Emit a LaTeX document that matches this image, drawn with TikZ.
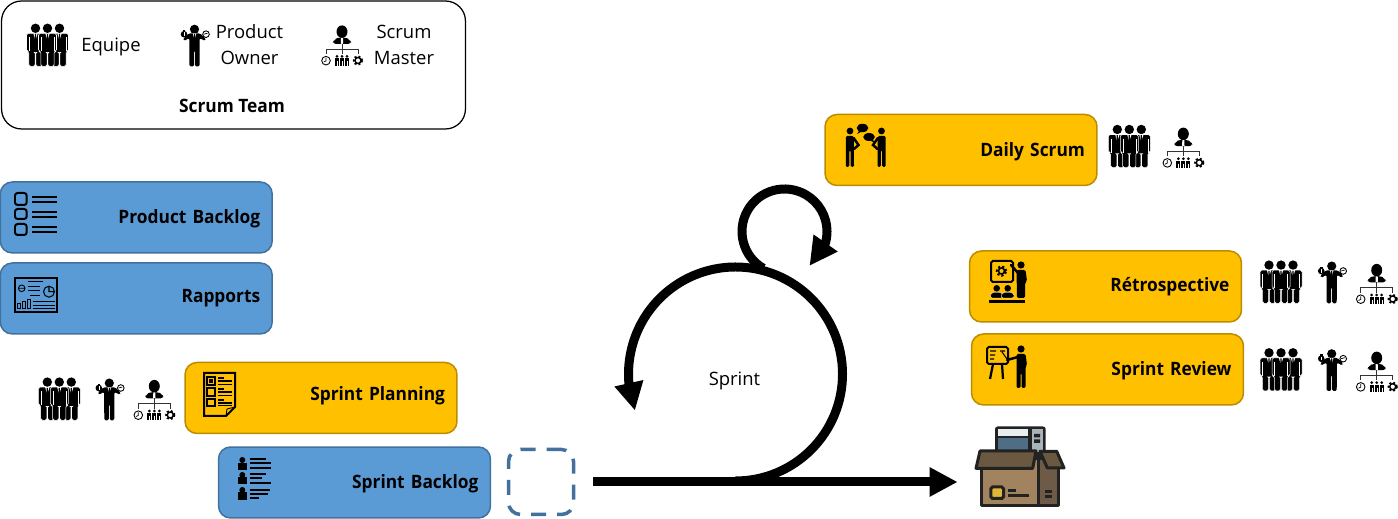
\documentclass[tikz,border=0pt]{standalone}
\usepackage{xcolor}
\usepackage{fontspec}
\setmainfont[BoldFeatures={FakeStretch=0.94}]{Open Sans}
\usepackage{tikz}
\usetikzlibrary{arrows.meta,bending}

\definecolor{boxblue}{HTML}{5B9BD5}
\definecolor{lineblue}{HTML}{41719C}
\definecolor{boxyellow}{HTML}{FFC000}
\definecolor{lineyellow}{HTML}{BC8C00}
\definecolor{cratedark}{HTML}{222222}
\definecolor{cratefront}{HTML}{A2835F}
\definecolor{crateside}{HTML}{6E5B47}
\definecolor{cratelid}{HTML}{6A5840}
\definecolor{cratelabel}{HTML}{E0B63A}
\definecolor{ovenbar}{HTML}{E8EEF0}
\definecolor{ovenglass}{HTML}{4F6D85}
\definecolor{ovenpanel}{HTML}{A9B4BA}

\newcommand{\nudge}[2]{\raisebox{#1}[\height][\depth]{#2}}

\tikzset{
  labeltext/.style = {font=\fontsize{10.5}{14.8}\selectfont, align=center, inner sep=0pt},
  boldtext/.style = {labeltext, font=\fontsize{10.5}{14.8}\selectfont\bfseries},
  stepbox/.style = {rectangle,
      rounded corners = 0.24cm,
      line width = 0.03cm,
      minimum height = 1.42cm,
      text width = 4.96cm,
      inner xsep = 0.24cm,
      align = right,
      font = \fontsize{10.5}{14.8}\selectfont\bfseries},
  bluebox/.style = {stepbox, draw = lineblue, fill = boxblue},
  yellowbox/.style = {stepbox, draw = lineyellow, fill = boxyellow},
  thickline/.style = {line width = 0.18cm},
  thickarrow/.style = {thickline, -{Triangle[length=0.56cm,width=0.55cm,flex]}},
  iconline/.style = {line width = 0.033cm},
  suit/.pic = {
    \fill (0,17.2) circle (4.7);
    \path[fill=black, draw=white, line width=0.3pt, rounded corners=1pt]
      (-9,12.2) -- (9,12.2) -- (9,-6) -- (6.6,-6) -- (6.6,-21) -- (0.4,-21) -- (0.4,-7)
      -- (-0.4,-7) -- (-0.4,-21) -- (-6.6,-21) -- (-6.6,-6) -- (-9,-6) -- cycle;
    \fill[white] (-2.2,12.2) -- (2.2,12.2) -- (0,5) -- cycle;
    \fill (-0.6,11.5) -- (0.6,11.5) -- (0.9,4) -- (0,2) -- (-0.9,4) -- cycle;
    \draw[white, line width=0.2pt] (-6.6,8) -- (-6.6,-6) (6.6,8) -- (6.6,-6);
  },
  team/.pic = {
    \pic at (-12,0) {suit};
    \pic at (12,0) {suit};
    \pic at (0,0) {suit};
  },
  owner/.pic = {
    \fill (0,16.2) circle (4.6);
    \fill[rounded corners=0.8pt] (-5.8,12) -- (5.8,12) -- (11.5,6.5) -- (10.5,4.5) -- (5.2,7.5)
      -- (5,-21) -- (0.5,-21) -- (0.5,-5) -- (-0.5,-5) -- (-0.5,-21) -- (-5,-21)
      -- (-5.2,7.5) -- (-10.5,4.5) -- (-11.5,6.5) -- cycle;
    \fill[white] (-1.8,12) -- (1.8,12) -- (0,6) -- cycle;
    \fill (-0.5,11.5) -- (0.5,11.5) -- (0.8,3) -- (-0.8,3) -- cycle;
    \fill (-10.5,11.3) circle (3.3);
    \fill (-11.8,15.6) rectangle (-9.2,14);
    \draw[white, line width=0.3pt] (-10.5,9.5) -- (-10.5,13);
    \draw[fill=white, line width=0.5pt] (11.5,11.3) circle (3.3);
    \draw[line width=0.4pt] (9.5,11.3) -- (13,12.3);
  },
  master/.pic = {
    \fill (0,13.8) ellipse (5.5 and 6.3);
    \fill[rounded corners=2pt] (-9.6,1.5) -- (-8,6) -- (-3,8) -- (3,8) -- (8,6) -- (9.6,1.5) -- cycle;
    \fill[white] (-1,7.5) -- (1,7.5) -- (1.2,2) -- (0,1.5) -- (-1.2,2) -- cycle;
    \draw[line width=0.5pt, draw=black!80] (-16,-8.8) -- (-16,-3.5) -- (16,-3.5) -- (16,-8.8) (0,1.5) -- (0,-8.8);
    % clock
    \draw[line width=0.5pt] (-16,-15.2) circle (4.3);
    \draw[line width=0.4pt] (-16,-12.5) -- (-16,-15.5) -- (-18.3,-16.5);
    % little people
    \foreach \px in {-5,0,5} {
      \fill (\px,-11) circle (1.5);
      \fill (\px-2,-13) rectangle (\px+2,-20.5);
      \draw[white, line width=0.2pt] (\px,-16) -- (\px,-20.5);
    }
    % gear
    \draw[line width=0.8pt] (16,-15) circle (3);
    \draw[line width=1.2pt, dash pattern=on 1.1pt off 1.1pt] (16,-15) circle (4.1);
  },
  talker/.pic = {
    \fill (0,0) circle (3.4);
    \fill[rounded corners=0.8pt] (-4.2,-5) -- (3.8,-5) -- (4,-36) -- (0.6,-36) -- (0.6,-19)
      -- (-0.6,-19) -- (-0.6,-36) -- (-4.2,-36) -- cycle;
    \draw[line width=0.05cm, line cap=round] (3.6,-7) -- (8.5,-14) -- (4,-18);
  },
}

\begin{document}
\begin{tikzpicture}[x=0.02cm, y=0.02cm]
\useasboundingbox (0,0) rectangle (1398,519);

% scrum team
  \node[rectangle,
      draw = black,
      line width = 0.025cm,
      rounded corners = 0.4cm,
      minimum width = 9.28cm,
      minimum height = 2.56cm] (scrumbox) at (233.5,454) {};
  \pic at (47.5,473.5) {team};
  \pic at (194.5,473.5) {owner};
  \pic at (342,473.5) {master};
  \node[labeltext] (equipe) at (111,472) {Equipe};
  \node[labeltext] (productowner) at (249.5,474) {Product\\Owner};
  \node[labeltext] (scrummaster) at (404,474) {Scrum\\Master};
  \node[boldtext] (scrumteam) at (232,413) {Scrum Team};

% left column
  \node[bluebox] (productbacklog) at (136.25,301.5) {\nudge{-0.6pt}{Product Backlog}};
  \node[bluebox] (rapports) at (136.25,220.5) {Rapports};
  \node[yellowbox] (sprintplanning) at (321,121) {\nudge{1.1pt}{Sprint Planning}};
  \node[bluebox] (sprintbacklog) at (354.5,36.5) {\nudge{-0.6pt}{Sprint Backlog}};

  % product backlog icon
  \foreach \ytop/\ybot in {326/314,310/300,295/284}
    \draw[iconline, line width=0.04cm, rounded corners=1.5pt] (15,\ytop) rectangle (26.7,\ybot);
  \foreach \yline in {322.3,317.3,307.3,302.3,292.3,286.7}
    \draw[iconline, line width=0.035cm] (32,\yline) -- (57,\yline);

  % rapports icon
  \draw[iconline] (15,240.7) rectangle (57.3,207.3);
  \draw[line width=0.4pt] (28,237.3) -- (43,237.3) (28,232.3) -- (40,232.3) (28,229) -- (40,229)
    (30,224) -- (40,224) (33,217.3) -- (55,217.3) (33,214) -- (55,214) (33,211) -- (55,211);
  \draw[line width=0.5pt] (21.7,230.7) circle (3.3) (18.4,230.7) -- (25,230.7);
  \draw[line width=0.6pt] (49,227.3) circle (5.5) (49,232.8) -- (49,227.3) -- (54.5,227.3);
  \draw[line width=0.5pt] (17.5,211) rectangle (20.5,216) (22.5,211) rectangle (25.5,218) (27.5,211) rectangle (30.5,220);

  % sprint planning icon
  \draw[iconline, line width=0.04cm] (204,146) -- (235,146) -- (235,112) -- (226,103) -- (204,103) -- cycle;
  \draw[line width=0.5pt] (235,112) -- (227,110) -- (226,103);
  \foreach \ytop/\ybot in {142/134,131/123,120/113} {
    \draw[line width=0.7pt] (207,\ytop) rectangle (215,\ybot);
    \draw[line width=0.6pt] (218,\ytop-1) -- (224,\ytop-1) (218,\ytop-4) -- (232,\ytop-4) (218,\ybot+0.5) -- (232,\ybot+0.5);
  }
  \fill (209,140) rectangle (213,136);

  % sprint backlog icon
  \foreach \yhead/\ytop/\ybot in {59/56/49,44/42/35,29/27/19} {
    \fill (242.3,\yhead) circle (3);
    \fill (238,\ybot) rectangle (247,\ytop);
  }
  \foreach \ystart/\xend in {59.7/266,55.7/271,50.7/271,44.7/266,41/262,36.3/271,29/270,24.7/268,20.7/259}
    \draw[line width=0.036cm] (250,\ystart) -- (\xend,\ystart);

  % team in front of planning
  \pic at (59.3,119.7) {team};
  \pic at (109.3,119.7) {owner};
  \pic at (154.3,119) {master};

% empty sprint backlog
  \node[rectangle,
      draw = lineblue,
      line width = 0.07cm,
      rounded corners = 0.24cm,
      dash pattern = on 0.3cm off 0.22cm,
      minimum width = 1.3cm,
      minimum height = 1.3cm] (emptybox) at (541,37) {};

% right column
  \node[yellowbox] (dailyscrum) at (961,369) {\nudge{-1.1pt}{Daily Scrum}};
  \node[yellowbox] (retrospective) at (1105.5,232.5) {Rétrospective};
  \node[yellowbox] (sprintreview) at (1107.5,149.5) {\nudge{-0.6pt}{Sprint Review}};

  % daily scrum icon
  \pic at (850,388) {talker};
  \pic[xscale=-1] at (881.5,388) {talker};
  \fill (862.5,391) ellipse (5.8 and 4.2);
  \fill (869,382) ellipse (5.8 and 4);
  \fill (859,388) -- (857,385) -- (862,387.5) -- cycle;
  \fill (873,379) -- (875,376) -- (870,378.5) -- cycle;
  \pic at (1129.3,372.3) {team};
  \pic at (1183.3,371.3) {master};

  % retrospective icon
  \draw[iconline, line width=0.04cm, rounded corners=1pt] (991,258) rectangle (1013,237);
  \draw[line width=0.9pt] (1001.5,248) circle (3);
  \draw[line width=1.3pt, dash pattern=on 1.2pt off 1.2pt] (1001.5,248) circle (4.6);
  \fill (1021,254) circle (3.6);
  \fill[rounded corners=0.8pt] (1016.5,249) -- (1025.5,249) -- (1027,238) -- (1025,236) -- (1025,221) -- (1017,221) -- cycle;
  \draw[line width=0.05cm, line cap=round] (1018,246) -- (1011,254);
  \foreach \xbust in {996.7,1007.7} {
    \fill (\xbust,230.7) circle (3.3);
    \fill[rounded corners=1.5pt, draw=white, line width=0.2pt] (\xbust-7,221) -- (\xbust-5.5,226.5) -- (\xbust+5.5,226.5) -- (\xbust+7,221) -- cycle;
  }
  \fill (989,219) rectangle (1024.5,215.5);

  % sprint review icon
  \draw[iconline, line width=0.04cm, rounded corners=1pt] (987,172) rectangle (1008,155);
  \draw[line width=0.6pt] (990,168) -- (996,168) (990,164) -- (995,164) (990,160) -- (994,160) (1000,168) -- (1005,168) (1002,167) -- (1007,160);
  \draw[line width=0.045cm] (993,155) -- (990,140) (1002,155) -- (1003,140);
  \fill (1021,170) circle (3.6);
  \fill[rounded corners=0.8pt] (1016.5,165) -- (1025.5,165) -- (1027,154) -- (1025.5,152) -- (1025.5,131) -- (1021.5,131) -- (1021.5,146) -- (1020.5,146) -- (1020.5,131) -- (1016.5,131) -- cycle;
  \draw[line width=0.05cm, line cap=round] (1018,162) -- (1007,159);

  \pic at (1281,236.7) {team};
  \pic at (1331.7,236.7) {owner};
  \pic at (1376.7,235) {master};
  \pic at (1281,149) {team};
  \pic at (1331.7,149) {owner};
  \pic at (1376.7,147.3) {master};

% sprint loops
  \node[labeltext] (sprint) at (734.5,138.5) {Sprint};
  \coordinate (bigstart) at (735.5,38);
  \coordinate (smallstart) at (763.25,250.7);
  \draw[thickarrow] (bigstart) arc[start angle=-90, end angle=200, radius=107];
  \draw[thickarrow] (smallstart) arc[start angle=240, end angle=-54, radius=42.5];

% delivered product
  \node[minimum width = 1.8cm, minimum height = 1.68cm, inner sep = 0pt] (package) at (1020,48) {};
  \draw[thickarrow, shorten <= 0.36cm, shorten >= 0.34cm] (emptybox.east) -- (emptybox.east -| package.west);

  % microwave in the crate
  \fill[cratedark, rounded corners=1.5pt] (995,92.5) rectangle (1045.7,60);
  \fill[ovenbar] (997.7,89.7) rectangle (1027.7,83.3);
  \fill[ovenglass] (997.7,81.3) rectangle (1027.7,69);
  \fill[ovenpanel] (1031.7,89.7) rectangle (1042.7,67);
  \fill[cratedark] (1034,85) rectangle (1040,81.5) (1034,79.5) rectangle (1040,76);
  % crate
  \draw[cratedark, line width=0.06cm, line join=round, fill=cratefront] (981.7,60) rectangle (1038,13.3);
  \draw[cratedark, line width=0.06cm, line join=round, fill=crateside] (1038,60) rectangle (1058,13.3);
  \draw[cratedark, line width=0.06cm, line join=round, fill=cratelid] (980,68) -- (1036,68) -- (1032.7,50.7) -- (976,50.7) -- cycle;
  \draw[cratedark, line width=0.06cm, line join=round, fill=cratelid] (1040,67.7) -- (1056.7,67.7) -- (1064,51) -- (1047.3,51) -- cycle;
  \draw[cratedark, line width=0.06cm, rounded corners=1pt, fill=cratelabel] (990.8,32) rectangle (1003.5,20.5);
  \draw[cratedark, line width=0.06cm] (1008,28.7) -- (1016,28.7) (1008,23.7) -- (1029,23.7) (1045,27) -- (1052,27) (1045,22) -- (1052,22);
\end{tikzpicture}
\end{document}
